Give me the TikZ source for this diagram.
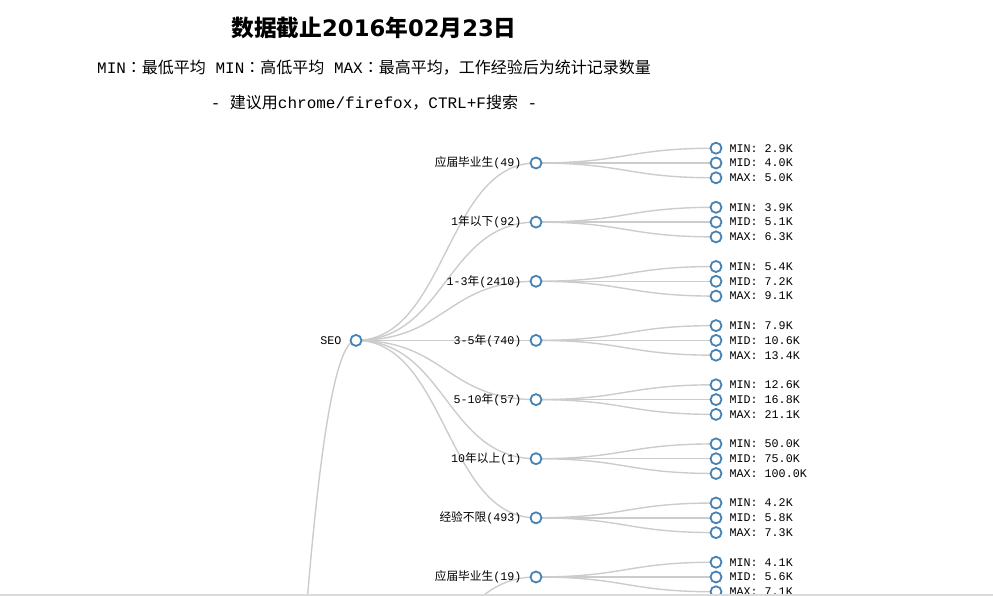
\documentclass[tikz,border=0pt]{standalone}
\usepackage{fontspec}
\setmonofont{Liberation Mono}
\newfontfamily\cjk{Noto Sans CJK SC}
\newfontfamily\cjkpunct{Noto Sans CJK KR}
\newfontfamily\titlefont{DejaVu Sans}
\newcommand{\zh}[1]{{\cjk #1}}
\newcommand{\zp}[1]{{\cjkpunct #1}}
\usetikzlibrary{positioning,calc,backgrounds}
\definecolor{steel}{RGB}{70,130,180}
\definecolor{linkgray}{RGB}{204,204,204}
\newcommand{\treelink}[2]{\draw[edge] let \p1=(#1), \p2=(#2) in (\p1) .. controls ({(\x1+\x2)/2},\y1) and ({(\x1+\x2)/2},\y2) .. (\p2);}

\begin{document}
\begin{tikzpicture}[x=1pt,y=-1pt,
dot/.style ={circle, draw=steel, line width=1.8pt, fill=white, minimum size=11pt, inner sep=0pt},
edge/.style ={linkgray, line width=1.4pt},
grp/.style ={font=\ttfamily\fontsize{11.7}{13}\selectfont, inner sep=0pt},
val/.style ={font=\ttfamily\fontsize{11.7}{13}\selectfont, inner sep=0pt},
head/.style ={font=\ttfamily\fontsize{16}{19}\selectfont, inner sep=0pt}
]
\useasboundingbox (0,0) rectangle (993,596);
\clip (0,0) rectangle (993,596);

% heading
\node[font=\titlefont\bfseries\fontsize{22.7}{27}\selectfont, inner sep=0pt] (title) at (374,28) {\zh{数据截止}2016\zh{年}02\zh{月}23\zh{日}};
\node[head] (note) at (374,68) {MIN\zp{：}\zh{最低平均} MIN\zp{：}\zh{高低平均} MAX\zp{：}\zh{最高平均}\zp{，}\zh{工作经验后为统计记录数量}};
\node[head] (tip) at (374,103) {- \zh{建议用}chrome/firefox\zp{，}CTRL+F\zh{搜索} -};

% tree
\coordinate (top) at (176,2385);
\coordinate (up) at (356,700);
\node[dot] (seo) at (356,340.4) {};
\node[grp, left=8pt of seo] (seot) {SEO};
\node[dot] (g1) at (536,163.0) {};
\node[dot] (g2) at (536,222.1) {};
\node[dot] (g3) at (536,281.3) {};
\node[dot] (g4) at (536,340.4) {};
\node[dot] (g5) at (536,399.6) {};
\node[dot] (g6) at (536,458.7) {};
\node[dot] (g7) at (536,517.8) {};
\node[dot] (g8) at (536,577.0) {};
\node[grp, left=8pt of g1] (g1t) {\zh{应届毕业生}(49)};
\node[grp, left=8pt of g2] (g2t) {1\zh{年以下}(92)};
\node[grp, left=8pt of g3] (g3t) {1-3\zh{年}(2410)};
\node[grp, left=8pt of g4] (g4t) {3-5\zh{年}(740)};
\node[grp, left=8pt of g5] (g5t) {5-10\zh{年}(57)};
\node[grp, left=8pt of g6] (g6t) {10\zh{年以上}(1)};
\node[grp, left=8pt of g7] (g7t) {\zh{经验不限}(493)};
\node[grp, left=8pt of g8] (g8t) {\zh{应届毕业生}(19)};

\foreach \g/\lo/\md/\hi in {1/2.9/4.0/5.0,2/3.9/5.1/6.3,3/5.4/7.2/9.1,4/7.9/10.6/13.4,
  5/12.6/16.8/21.1,6/50.0/75.0/100.0,7/4.2/5.8/7.3,8/4.1/5.6/7.1}{
  \node[dot] (lo\g) at ($(g\g)+(180,-14.8)$) {};
  \node[dot] (md\g) at ($(g\g)+(180,0)$) {};
  \node[dot] (hi\g) at ($(g\g)+(180,14.8)$) {};
  \node[val, right=7pt of lo\g] (lo\g t) {MIN: \lo K};
  \node[val, right=7pt of md\g] (md\g t) {MID: \md K};
  \node[val, right=7pt of hi\g] (hi\g t) {MAX: \hi K};
}

\begin{pgfonlayer}{background}
\clip (0,0) rectangle (993,596);
\treelink{top}{seo}
\foreach \g in {1,...,7}{\treelink{seo}{g\g}}
\treelink{up}{g8}
\foreach \g in {1,...,8}{
  \treelink{g\g}{lo\g}
  \treelink{g\g}{md\g}
  \treelink{g\g}{hi\g}
}
\end{pgfonlayer}

% window edge
\fill[black!14] (0,594) rectangle (993,596);
\end{tikzpicture}
\end{document}
